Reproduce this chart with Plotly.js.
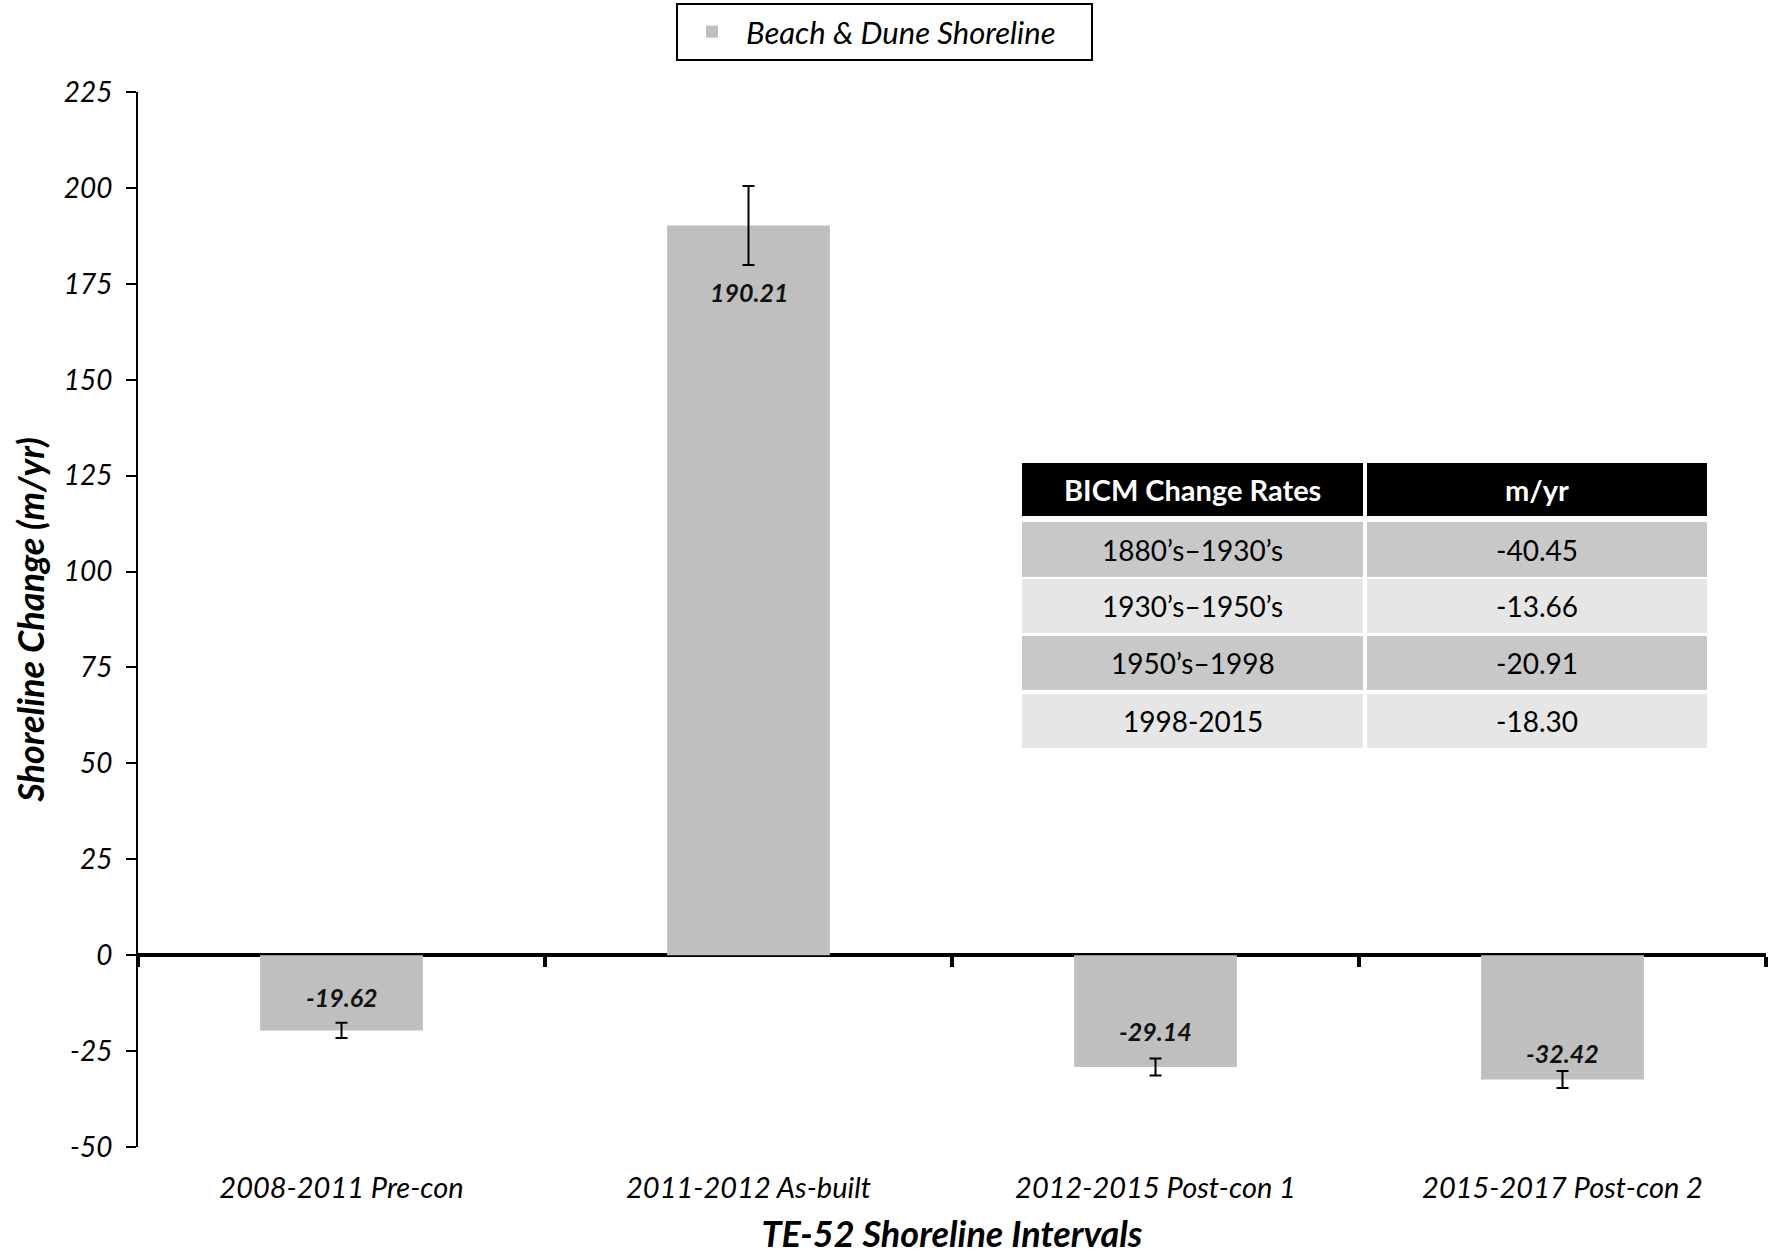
<!DOCTYPE html>
<html>
<head>
<meta charset="utf-8">
<script src="https://cdn.plot.ly/plotly-3.0.1.min.js"></script>
<style>html,body{margin:0;padding:0;background:#fff;}#chart{width:1769px;height:1255px;}</style>
</head>
<body>
<div id="chart"></div>
<script>
// ---- data ----
const categories = ['2008-2011 Pre-con', '2011-2012 As-built', '2012-2015 Post-con 1', '2015-2017 Post-con 2'];
const shorelineChange = [-19.62, 190.21, -29.14, -32.42];
const errorMargins = [2.0, 10.3, 2.2, 2.2];
const seriesName = 'Beach & Dune Shoreline';
const yTickValues = [-50, -25, 0, 25, 50, 75, 100, 125, 150, 175, 200, 225];
const yTickLabels = ['-50', '-25', '0', '25', '50', '75', '100', '125', '150', '175', '200', '225'];
const tableHeader = ['BICM Change Rates', 'm/yr'];
const bicmPeriods = ['1880’s–1930’s', '1930’s–1950’s', '1950’s–1998', '1998-2015'];
const bicmRates = ['-40.45', '-13.66', '-20.91', '-18.30'];

// ---- layout geometry (pixels) ----
const W = 1769, H = 1255;
const L = 138, R = 1766, T = 92, B = 1147;
const fx = px => (px - L) / (R - L);
const fy = py => (B - py) / (B - T);
const FONT = 'Lato, "Open Sans", sans-serif';

const barColor = '#bfbfbf';
const labelShift = [33, -67, 36, 27];

const traces = [
  {
    type: 'bar',
    name: seriesName,
    x: categories,
    y: shorelineChange,
    width: 0.4,
    marker: {color: barColor},
    error_y: {type: 'data', array: errorMargins, visible: true, color: '#000', thickness: 2, width: 6},
    hoverinfo: 'x+y'
  },
  {
    type: 'scatter', x: [], y: [], xaxis: 'x2', yaxis: 'y', showlegend: false, hoverinfo: 'skip'
  }
];

const annotations = shorelineChange.map((v, i) => ({
  x: categories[i], y: v, xref: 'x', yref: 'y',
  text: '<b><i>' + v.toFixed(2) + '</i></b>',
  showarrow: false, yshift: labelShift[i],
  font: {family: FONT, size: 25, color: '#111', weight: 900}
}));

// table (drawn as shapes + annotations)
const colX = [[1022, 1363], [1367, 1707]];
const rowY = [[463, 516], [522, 577], [579, 633], [636, 690], [694, 748]];
const rowFill = ['#000000', '#c8c8c8', '#e6e6e6', '#c8c8c8', '#e6e6e6'];
const shapes = [];
for (let r = 0; r < rowY.length; r++) {
  for (let c = 0; c < 2; c++) {
    shapes.push({
      type: 'rect', xref: 'paper', yref: 'paper', layer: 'above',
      x0: fx(colX[c][0]), x1: fx(colX[c][1]), y0: fy(rowY[r][1]), y1: fy(rowY[r][0]),
      fillcolor: rowFill[r], line: {width: 0}
    });
    let txt, font;
    if (r === 0) {
      txt = '<b>' + tableHeader[c] + '</b>';
      font = {family: FONT, size: 29, color: '#ffffff'};
    } else {
      txt = c === 0 ? bicmPeriods[r - 1] : bicmRates[r - 1];
      font = {family: FONT, size: 28, color: '#000000'};
    }
    annotations.push({
      xref: 'paper', yref: 'paper', showarrow: false,
      x: fx((colX[c][0] + colX[c][1]) / 2), y: fy((rowY[r][0] + rowY[r][1]) / 2),
      xanchor: 'center', yanchor: 'middle', text: txt, font: font
    });
  }
}

const layout = {
  width: W, height: H,
  margin: {l: L, r: W - R, t: T, b: H - B, pad: 0},
  paper_bgcolor: '#ffffff', plot_bgcolor: '#ffffff',
  font: {family: FONT, color: '#000'},
  showlegend: true,
  legend: {
    orientation: 'h', x: fx(884.5), xanchor: 'center', y: fy(3), yanchor: 'top',
    bordercolor: '#000', borderwidth: 2, bgcolor: '#fff',
    font: {family: FONT, size: 31, color: '#000', style: 'italic'},
    entrywidth: 340, itemwidth: 58
  },
  xaxis: {
    type: 'category', range: [-0.5, 3.5],
    showline: false, showgrid: false, zeroline: false, ticks: '',
    tickfont: {family: FONT, size: 29, color: '#000', style: 'italic'},
    ticklabelstandoff: 21,
    title: {text: '<b><i>TE-52 Shoreline Intervals</i></b>', font: {family: FONT, size: 36, color: '#000'}, standoff: 28},
    automargin: false
  },
  xaxis2: {
    overlaying: 'x', anchor: 'free', position: fy(956), side: 'bottom',
    range: [-0.5, 3.5], tickvals: [-0.5, 0.5, 1.5, 2.5, 3.5],
    ticks: 'outside', ticklen: 10, tickwidth: 4, tickcolor: '#000',
    showticklabels: false, showline: false, showgrid: false, zeroline: false
  },
  yaxis: {
    range: [-50, 225], tickmode: 'array', tickvals: yTickValues, ticktext: yTickLabels,
    showline: true, linecolor: '#000', linewidth: 2,
    ticks: 'outside', ticklen: 10, tickwidth: 2, tickcolor: '#000',
    showgrid: false,
    zeroline: true, zerolinecolor: '#000', zerolinewidth: 4,
    tickfont: {family: FONT, size: 28, color: '#000', style: 'italic'},
    ticklabelstandoff: 8,
    title: {text: '<b><i>Shoreline Change (m/yr)</i></b>', font: {family: FONT, size: 36, color: '#000'}, standoff: 8},
    automargin: false
  },
  bargap: 0.6,
  shapes: shapes,
  annotations: annotations
};

Plotly.newPlot('chart', traces, layout, {displayModeBar: false, staticPlot: true});
</script>
</body>
</html>
